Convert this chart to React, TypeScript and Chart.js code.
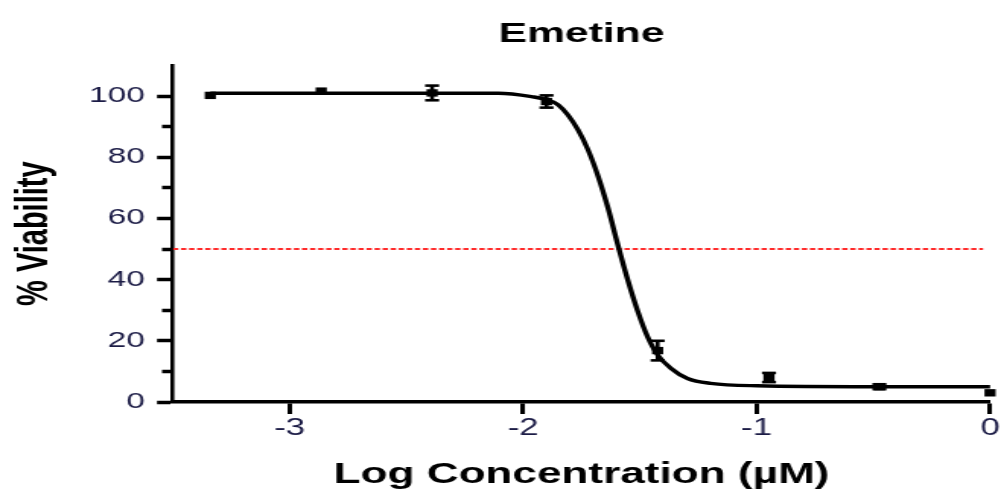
import React, { useEffect, useRef } from 'react';
import { Chart, registerables } from 'chart.js';

Chart.register(...registerables);

// ---------- data ----------
const titleText = 'Emetine';
const xAxisTitle = 'Log Concentration (µM)';
const yAxisTitle = '% Viability';

// measured points (log µM, % viability, SEM)
const logConc = [-3.34, -2.865, -2.39, -1.9, -1.424, -0.947, -0.474, 0];
const viability = [100.2, 101.6, 101.0, 98.2, 16.8, 8.0, 5.0, 3.0];
const sem = [0, 0, 2.4, 2.0, 3.2, 1.5, 0.8, 0];

// fitted curve
const fitX = [-3.34, -2.5, -2.106, -1.964, -1.893, -1.85, -1.808, -1.765, -1.722, -1.68, -1.637, -1.595, -1.552, -1.509, -1.467, -1.424, -1.367, -1.296, -1.197, -0.998, -0.5, 0];
const fitY = [100.9, 100.9, 100.9, 99.8, 98.7, 97.1, 93.8, 88.9, 82.4, 74.0, 63.5, 51.5, 39.9, 29.6, 21.3, 15.4, 11.0, 7.7, 6.1, 5.3, 5.0, 5.0];

// 50 % reference line
const refX = [-3.5, -0.03];
const refY = [50, 50];

// axes
const xMin = -3.5;
const xMax = 0;
const yMin = 0;
const yMax = 110;
const xTicks = [-3, -2, -1, 0];
const yTicks = [0, 10, 20, 30, 40, 50, 60, 70, 80, 90, 100];
const yLabeledTicks = [0, 20, 40, 60, 80, 100];

// ---------- layout (internal canvas units; canvas is stretched horizontally) ----------
const OUT_W = 1001;
const OUT_H = 490;
const W = 658;
const H = 490;
const FONT = '"Liberation Sans", Arial, Helvetica, sans-serif';
const TICK_COLOR = '#1c1c46';

export default function App() {
  const ref = useRef<HTMLCanvasElement | null>(null);

  useEffect(() => {
    const canvas = ref.current;
    if (!canvas) return;

    const markerData = logConc.map((x, i) => ({ x, y: viability[i] }));
    const capData: { x: number; y: number }[] = [];
    const stemData: { x: number; y: [number, number] }[] = [];
    logConc.forEach((x, i) => {
      if (sem[i] > 0) {
        capData.push({ x, y: viability[i] + sem[i] });
        capData.push({ x, y: viability[i] - sem[i] });
        stemData.push({ x, y: [viability[i] - sem[i], viability[i] + sem[i]] });
      }
    });
    const curveData = fitX.map((x, i) => ({ x, y: fitY[i] }));
    const refData = refX.map((x, i) => ({ x, y: refY[i] }));

    const chart = new Chart(canvas, {
      type: 'scatter',
      data: {
        datasets: [
          {
            type: 'scatter',
            data: markerData,
            pointStyle: 'rect',
            pointRadius: 5.2,
            pointBackgroundColor: '#000',
            pointBorderColor: '#000',
            pointBorderWidth: 0,
            clip: false,
          } as any,
          {
            type: 'scatter',
            data: capData,
            pointStyle: 'line',
            pointRadius: 4.6,
            pointBorderColor: '#000',
            pointBorderWidth: 2.6,
            clip: false,
          } as any,
          {
            type: 'bar',
            data: stemData,
            barThickness: 2,
            backgroundColor: '#000',
            borderWidth: 0,
            grouped: false,
            clip: false,
          } as any,
          {
            type: 'line',
            data: curveData,
            borderColor: '#000',
            borderWidth: 3.4,
            pointRadius: 0,
            cubicInterpolationMode: 'monotone',
            fill: false,
            clip: false,
          } as any,
          {
            type: 'line',
            data: refData,
            borderColor: '#ff2a2a',
            borderWidth: 1.8,
            borderDash: [3.5, 1.8],
            pointRadius: 0,
            fill: false,
          } as any,
        ],
      },
      options: {
        responsive: false,
        maintainAspectRatio: false,
        devicePixelRatio: 1,
        animation: false,
        events: [],
        layout: { padding: { left: 0, right: 4.6, top: 0, bottom: 0 } },
        plugins: {
          legend: { display: false },
          tooltip: { enabled: false },
          title: {
            display: true,
            text: titleText,
            fullSize: false,
            color: '#000',
            font: { family: FONT, size: 28, weight: 'bold', lineHeight: 1.2 },
            padding: { top: 17, bottom: 14.8 },
          },
        },
        scales: {
          x: {
            type: 'linear',
            min: xMin,
            max: xMax,
            offset: false,
            grid: {
              display: true,
              offset: false,
              drawOnChartArea: false,
              drawTicks: true,
              tickLength: 12,
              tickWidth: 3,
              tickColor: '#000',
            },
            border: { display: true, color: '#000', width: 3.5 },
            ticks: {
              color: TICK_COLOR,
              font: { family: FONT, size: 23, lineHeight: 1 },
              padding: 3,
              maxRotation: 0,
              autoSkip: false,
              includeBounds: false,
              callback: (v: any) => String(v),
            },
            afterBuildTicks: (s: any) => {
              s.ticks = xTicks.map((v) => ({ value: v }));
            },
            afterFit: (s: any) => {
              s.height = 88;
              s.paddingLeft = 0;
              s.paddingRight = 0;
            },
            title: {
              display: true,
              text: xAxisTitle,
              color: '#000',
              font: { family: FONT, size: 29, weight: 'bold', lineHeight: 1 },
              padding: { top: 0, bottom: 1 },
            },
          } as any,
          y: {
            type: 'linear',
            min: yMin,
            max: yMax,
            grid: {
              display: true,
              drawOnChartArea: false,
              drawTicks: true,
              tickLength: 10.5,
              tickWidth: 3.5,
              tickColor: '#000',
              tickBorderDash: (ctx: any) =>
                ctx.tick && !yLabeledTicks.includes(ctx.tick.value) ? [0, 3.3, 50] : [],
            },
            border: { display: true, color: '#000', width: 2.6 },
            ticks: {
              color: TICK_COLOR,
              font: { family: FONT, size: 22, lineHeight: 1 },
              padding: 7.9,
              autoSkip: false,
              includeBounds: false,
              callback: (v: any) => (yLabeledTicks.includes(v) ? String(v) : ''),
            },
            afterBuildTicks: (s: any) => {
              s.ticks = yTicks.map((v) => ({ value: v }));
            },
            afterFit: (s: any) => {
              s.width = 113.7;
              s.paddingTop = 0;
              s.paddingBottom = 0;
            },
            title: {
              display: true,
              text: yAxisTitle,
              color: '#000',
              font: { family: FONT, size: 29, weight: 'bold', lineHeight: 1 },
              padding: { top: 8, bottom: 0 },
            },
          } as any,
        },
      } as any,
    });

    return () => chart.destroy();
  }, []);

  return (
    <div style={{ position: 'absolute', left: 0, top: 0, width: OUT_W, height: OUT_H, background: '#fff' }}>
      <canvas
        ref={ref}
        width={W}
        height={H}
        style={{ width: `${OUT_W}px`, height: `${OUT_H}px`, display: 'block' }}
      />
    </div>
  );
}
